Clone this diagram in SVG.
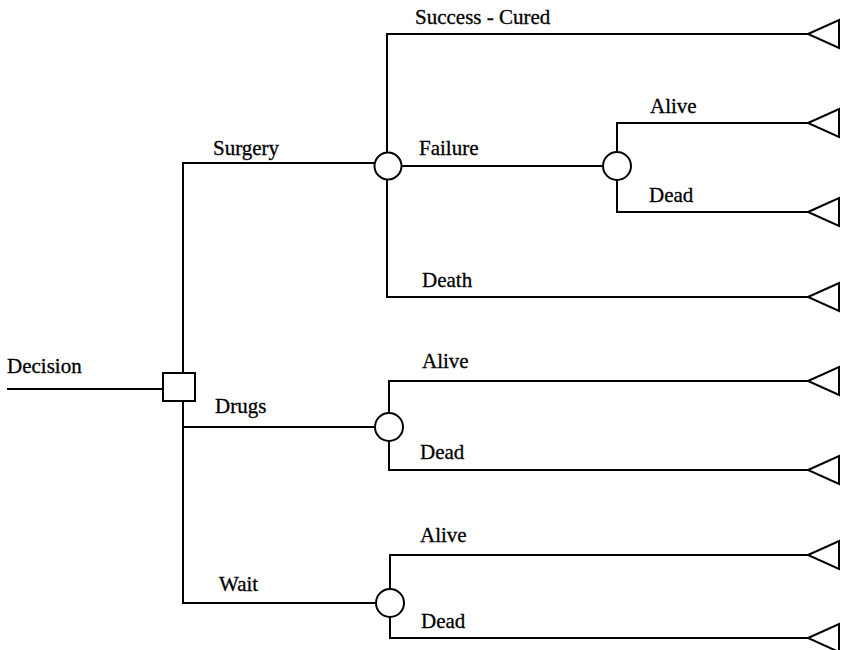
<svg xmlns="http://www.w3.org/2000/svg" width="841" height="650" viewBox="0 0 841 650">
<style>
.ln{stroke:#000;stroke-width:2;fill:none}
.nd{stroke:#000;stroke-width:2;fill:#fff}
.lb{font-family:"Liberation Serif","Times New Roman",serif;font-size:21px;fill:#000;stroke:#000;stroke-width:0.3}
</style>
<defs>
<polygon id="tri" points="0,0 31,-14 31,14" class="nd"/>
</defs>
<rect width="841" height="650" fill="#fff"/>
<g id="connectors">
<polyline class="ln" points="7,389 163,389"/>
<polyline class="ln" points="183,373 183,163 375,163"/>
<polyline class="ln" points="183,401 183,603 376,603"/>
<polyline class="ln" points="183,427 375,427"/>
<polyline class="ln" points="387,153 387,34 808,34"/>
<polyline class="ln" points="401,166 603,166"/>
<polyline class="ln" points="387,179 387,297 808,297"/>
<polyline class="ln" points="617,152 617,123 808,123"/>
<polyline class="ln" points="617,180 617,212 808,212"/>
<polyline class="ln" points="389,413 389,381 808,381"/>
<polyline class="ln" points="389,441 389,470 808,470"/>
<polyline class="ln" points="390,589 390,555 808,555"/>
<polyline class="ln" points="390,617 390,638 808,638"/>
<text class="lb" x="7" y="373">Decision</text>
<text class="lb" x="213" y="155">Surgery</text>
<text class="lb" x="215" y="413">Drugs</text>
<text class="lb" x="219" y="591">Wait</text>
<text class="lb" x="415" y="24">Success - Cured</text>
<text class="lb" x="419" y="155">Failure</text>
<text class="lb" x="422" y="287">Death</text>
<text class="lb" x="650" y="113">Alive</text>
<text class="lb" x="649" y="202">Dead</text>
<text class="lb" x="422" y="368">Alive</text>
<text class="lb" x="420" y="459">Dead</text>
<text class="lb" x="420" y="542">Alive</text>
<text class="lb" x="421" y="628">Dead</text>
</g>
<g id="decision"><rect class="nd" x="163" y="373" width="32" height="28"/></g>
<g id="chance-surgery"><circle class="nd" cx="388" cy="166" r="13.5"/></g>
<g id="chance-failure"><circle class="nd" cx="617" cy="166" r="14"/></g>
<g id="chance-drugs"><circle class="nd" cx="389" cy="427" r="14"/></g>
<g id="chance-wait"><circle class="nd" cx="390" cy="603" r="14"/></g>
<g id="end-cured"><use href="#tri" x="808" y="34"/></g>
<g id="end-failure-alive"><use href="#tri" x="808" y="123"/></g>
<g id="end-failure-dead"><use href="#tri" x="808" y="212"/></g>
<g id="end-death"><use href="#tri" x="808" y="297"/></g>
<g id="end-drugs-alive"><use href="#tri" x="808" y="381"/></g>
<g id="end-drugs-dead"><use href="#tri" x="808" y="470"/></g>
<g id="end-wait-alive"><use href="#tri" x="808" y="555"/></g>
<g id="end-wait-dead"><use href="#tri" x="808" y="638"/></g>
</svg>
